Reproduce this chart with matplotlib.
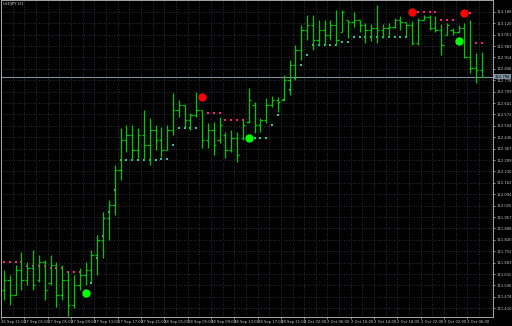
import numpy as np
import matplotlib
matplotlib.use("Agg")
import matplotlib.pyplot as plt

# USDJPY hourly bars
opens = [111.520, 111.580, 111.490, 111.640, 111.580, 111.652, 111.580, 111.688, 111.562, 111.670,
         111.490, 111.580, 111.430, 111.550, 111.610, 111.640, 111.730, 111.820, 111.952, 112.030,
         112.240, 112.420, 112.450, 112.360, 112.450, 112.390, 112.480, 112.420, 112.360, 112.480,
         112.600, 112.630, 112.540, 112.570, 112.600, 112.420, 112.480, 112.420, 112.450, 112.360,
         112.432, 112.432, 112.528, 112.630, 112.510, 112.540, 112.630, 112.660, 112.660, 112.780,
         112.870, 112.960, 113.080, 113.110, 113.020, 113.080, 113.050, 113.110, 113.068, 113.140,
         113.128, 113.140, 113.110, 113.080, 113.092, 113.080, 113.092, 113.098, 113.140, 113.128,
         113.110, 113.002, 113.140, 113.158, 113.092, 113.080, 113.050, 113.080, 113.068, 113.092,
         112.918, 112.852, 112.840]
highs = [111.640, 111.610, 111.670, 111.748, 111.688, 111.760, 111.730, 111.700, 111.730, 111.688,
         111.670, 111.628, 111.610, 111.652, 111.688, 111.760, 111.850, 111.988, 112.060, 112.270,
         112.492, 112.510, 112.510, 112.492, 112.600, 112.552, 112.510, 112.498, 112.510, 112.702,
         112.660, 112.630, 112.582, 112.708, 112.600, 112.522, 112.528, 112.558, 112.468, 112.480,
         112.468, 112.540, 112.732, 112.648, 112.552, 112.672, 112.684, 112.678, 112.810, 112.900,
         112.990, 113.110, 113.170, 113.170, 113.140, 113.140, 113.140, 113.200, 113.200, 113.140,
         113.188, 113.140, 113.122, 113.116, 113.230, 113.116, 113.122, 113.152, 113.164, 113.128,
         113.134, 113.152, 113.170, 113.170, 113.164, 113.116, 113.122, 113.092, 113.110, 113.122,
         113.140, 112.942, 112.948]
lows = [111.460, 111.430, 111.490, 111.520, 111.550, 111.520, 111.568, 111.460, 111.550, 111.418,
        111.460, 111.364, 111.412, 111.520, 111.550, 111.568, 111.610, 111.712, 111.820, 111.970,
        112.180, 112.348, 112.300, 112.312, 112.300, 112.270, 112.360, 112.318, 112.360, 112.450,
        112.558, 112.498, 112.480, 112.558, 112.372, 112.372, 112.330, 112.402, 112.312, 112.348,
        112.288, 112.420, 112.522, 112.462, 112.468, 112.522, 112.618, 112.588, 112.660, 112.690,
        112.780, 112.900, 113.020, 112.960, 112.990, 112.990, 113.020, 112.990, 113.068, 113.032,
        113.098, 113.068, 113.002, 113.014, 113.002, 113.032, 113.038, 113.092, 113.080, 113.038,
        112.990, 112.990, 113.140, 113.080, 113.068, 112.930, 113.050, 113.050, 113.062, 112.912,
        112.822, 112.762, 112.798]
closes = [111.580, 111.490, 111.640, 111.580, 111.652, 111.550, 111.688, 111.520, 111.670, 111.490,
          111.580, 111.430, 111.550, 111.610, 111.640, 111.730, 111.820, 111.952, 112.030, 112.240,
          112.420, 112.450, 112.360, 112.450, 112.390, 112.480, 112.420, 112.360, 112.480, 112.600,
          112.630, 112.540, 112.570, 112.600, 112.420, 112.480, 112.390, 112.510, 112.360, 112.432,
          112.330, 112.510, 112.660, 112.510, 112.540, 112.630, 112.660, 112.648, 112.780, 112.870,
          112.960, 113.080, 113.110, 113.020, 113.080, 113.050, 113.110, 113.020, 113.188, 113.128,
          113.140, 113.110, 113.080, 113.092, 113.080, 113.092, 113.098, 113.140, 113.128, 113.110,
          113.002, 113.140, 113.158, 113.092, 113.080, 112.990, 113.110, 113.068, 113.092, 112.918,
          112.852, 112.840, 112.798]

# indicator: support dots (teal), resistance dots (pink), signals
support_idx = [15, 16, 17, 18, 19, 20, 21, 22, 23, 24, 25, 26, 27, 28, 29, 30, 31, 32, 33,
               43, 44, 45, 46, 47, 48, 49, 50, 51, 52, 53, 54, 55, 56, 57, 58, 59,
               60, 61, 62, 63, 64, 65, 66, 67, 68, 69]
support_px = [111.562, 111.712, 111.844, 111.988, 112.120, 112.300, 112.300, 112.300, 112.300,
              112.300, 112.300, 112.300, 112.306, 112.306, 112.390, 112.492, 112.492, 112.492, 112.492,
              112.432, 112.432, 112.432, 112.510, 112.570, 112.660, 112.720, 112.792, 112.870, 112.930,
              112.990, 112.990, 112.990, 112.990, 112.990, 113.008, 113.008,
              113.038, 113.038, 113.038, 113.038, 113.038, 113.038, 113.038, 113.038, 113.038, 113.038]
resist_idx = [0, 1, 2, 3, 4, 5, 6, 7, 8, 9, 10, 11, 12, 13,
              35, 36, 37, 38, 39, 40, 41,
              71, 72, 73, 74, 75, 76, 77, 80, 81, 82]
resist_px = [111.688, 111.688, 111.688, 111.688, 111.664, 111.664, 111.664, 111.664, 111.652, 111.652,
             111.652, 111.628, 111.628, 111.628,
             112.582, 112.582, 112.582, 112.540, 112.540, 112.540, 112.540,
             113.188, 113.188, 113.188, 113.188, 113.140, 113.140, 113.140, 113.182, 113.002, 113.002]
buy_idx = [14, 42, 78]
buy_px = [111.502, 112.432, 113.014]
sell_idx = [34, 70, 79]
sell_px = [112.678, 113.188, 113.182]

time_labels = ["26 Sep 21:00", "27 Sep 01:00", "27 Sep 05:00", "27 Sep 09:00", "27 Sep 13:00",
               "27 Sep 17:00", "27 Sep 21:00", "28 Sep 01:00", "28 Sep 05:00", "28 Sep 09:00",
               "28 Sep 13:00", "28 Sep 17:00", "28 Sep 21:00", "2 Oct 02:00", "2 Oct 06:00",
               "2 Oct 10:00", "2 Oct 14:00", "2 Oct 18:00", "2 Oct 22:00", "3 Oct 02:00",
               "3 Oct 06:00"]

bg = "black"
bar_col = "#00c800"
txt_col = "#c8c8c8"
fsize = 2.7

fig = plt.figure(figsize=(5.12, 3.26), dpi=100, facecolor=bg)
ax = fig.add_axes([0.002, 0.028, 0.961, 0.9724], facecolor=bg)

x = np.arange(len(opens))

# grid: horizontal every price step, vertical every 2 bars
ystep = 0.0684
yticks = 113.188 - ystep * np.arange(27)
for yy in yticks:
    ax.axhline(yy, color="#3c3c46", lw=0.6, ls=(0, (1, 2)), zorder=0)
for xx in np.arange(-0.5, 84, 2):
    ax.axvline(xx, color="#3c3c46", lw=0.6, ls=(0, (1, 2)), zorder=0)

# current price line
ax.axhline(closes[-1], color="#8090a0", lw=0.8, zorder=1)

# indicator dots (under the bars)
ax.plot(support_idx, support_px, ls="none", marker="s", ms=1.5, color="#30c0a8", mew=0, zorder=2)
ax.plot(resist_idx, resist_px, ls="none", marker="s", ms=1.5, color="#ff1a8c", mew=0, zorder=2)

# OHLC bars
ax.vlines(x, lows, highs, color=bar_col, lw=0.9, zorder=3)
ax.hlines(opens, x - 0.4, x, color=bar_col, lw=0.9, zorder=3)
ax.hlines(closes, x, x + 0.4, color=bar_col, lw=0.9, zorder=3)

# signals
ax.plot(buy_idx, buy_px, ls="none", marker="o", ms=6, color="#00ff00", mew=0, zorder=4)
ax.plot(sell_idx, sell_px, ls="none", marker="o", ms=6, color="#ff0000", mew=0, zorder=4)

ax.set_xlim(-0.5, 83.9)
ax.set_ylim(111.358, 113.26)

# price axis on the right
ax.yaxis.tick_right()
ax.set_yticks(yticks)
ax.set_yticklabels(["%.3f" % v for v in yticks])
ax.tick_params(axis="y", colors=txt_col, labelsize=fsize, length=1.5, width=0.5, pad=0.8)

# time axis
ax.set_xticks(np.arange(0, 84, 4) - 0.5)
ax.set_xticklabels(time_labels, ha="left")
ax.tick_params(axis="x", colors=txt_col, labelsize=fsize, length=1.5, width=0.5, pad=0.8)

for s in ax.spines.values():
    s.set_color("#c0c0c0")
    s.set_linewidth(0.6)

# last price tag
ax.text(1.003, (closes[-1] - 111.358) / (113.26 - 111.358), "%.3f" % closes[-1],
        transform=ax.transAxes, fontsize=fsize, color="black", va="center", ha="left",
        bbox=dict(boxstyle="square,pad=0.15", fc="#8090a0", ec="none"))

ax.text(0.004, 0.994, "USDJPY,H1", transform=ax.transAxes, fontsize=3.0, color=txt_col,
        va="top", ha="left")

fig.savefig("out.png", dpi=100, facecolor=bg)
